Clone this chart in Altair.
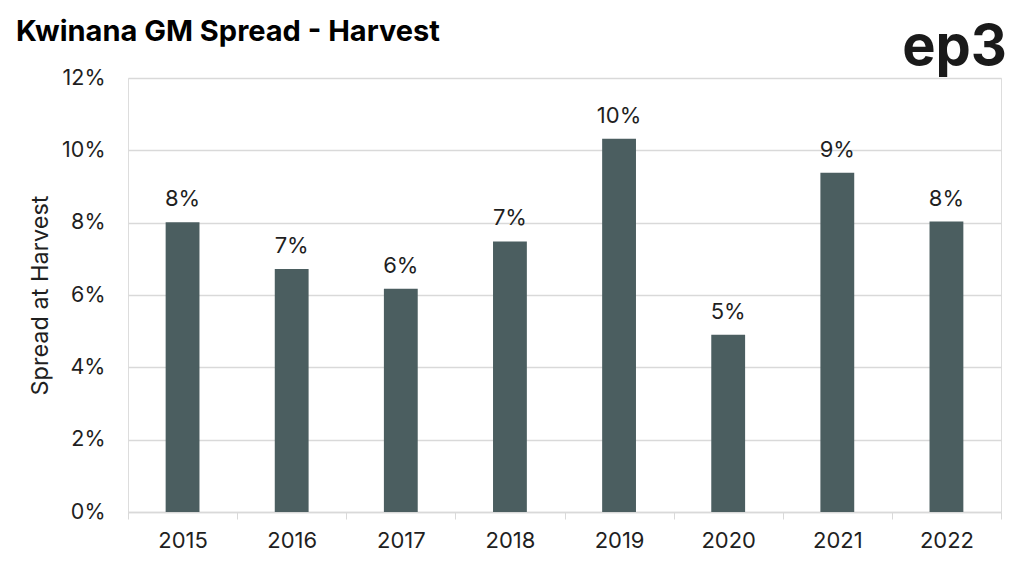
import altair as alt
import pandas as pd

years = ["2015", "2016", "2017", "2018", "2019", "2020", "2021", "2022"]
spread = [0.0801, 0.0672, 0.0617, 0.0748, 0.1032, 0.0490, 0.0938, 0.0803]
y_ticks = [0.0, 0.02, 0.04, 0.06, 0.08, 0.10, 0.12]
title_text = "Kwinana GM Spread - Harvest"
logo_text = "ep3"
y_title = "Spread at Harvest"

FONT = "Inter"
BAR = "#4B5E60"
GRID = "#d9d9d9"
TXT = "#1f1f1f"

df = pd.DataFrame({"Year": years, "Spread": spread})

x_enc = alt.X(
    "Year:N", sort=years, title=None,
    scale=alt.Scale(paddingInner=0, paddingOuter=0),
    axis=alt.Axis(
        tickBand="extent", labelAngle=0, labelFont=FONT, labelFontSize=22,
        labelColor=TXT, labelPadding=11, tickSize=7, tickColor=GRID,
        domainColor=GRID, domainWidth=1.5, grid=False,
    ),
)
y_enc = alt.Y(
    "Spread:Q",
    scale=alt.Scale(domain=[0, 0.12], nice=False),
    axis=alt.Axis(
        format=".0%", values=y_ticks, grid=True, gridColor=GRID, gridWidth=1.5,
        domain=False, ticks=False, labelPadding=23, labelFont=FONT,
        labelFontSize=21.5, labelColor=TXT, title=y_title, titleFont=FONT,
        titleFontSize=23.5, titleFontWeight="normal", titleColor=TXT,
        titleX=-81, titleY=217, titleBaseline="alphabetic", titleAngle=270,
    ),
)

base = alt.Chart(df)
bars = base.mark_bar(color=BAR, width=alt.RelativeBandSize(0.31)).encode(x=x_enc, y=y_enc)
labels = base.mark_text(
    baseline="alphabetic", dy=-16, fontSize=22, font=FONT, color=TXT
).encode(x=x_enc, y=y_enc, text=alt.Text("Spread:Q", format=".0%"))

title = alt.Chart(pd.DataFrame({"t": [title_text]})).mark_text(
    align="left", baseline="alphabetic", fontSize=29, fontWeight="bold",
    font=FONT, color="#000000"
).encode(text="t:N", x=alt.value(-112), y=alt.value(-37))

logo = alt.Chart(pd.DataFrame({"t": [logo_text]})).mark_text(
    align="right", baseline="alphabetic", fontSize=56, fontWeight="bold",
    font=FONT, color="#1a1a1a"
).encode(text="t:N", x=alt.value(879), y=alt.value(-13))

chart = alt.layer(bars, labels, title, logo).properties(
    width=873, height=434,
    padding={"left": 120, "top": 70, "right": 15, "bottom": 50},
    autosize=alt.AutoSizeParams(type="none"),
).configure_view(stroke=None).configure(background="white")

chart.save("out.html", embed_options={"renderer": "svg", "actions": False})
